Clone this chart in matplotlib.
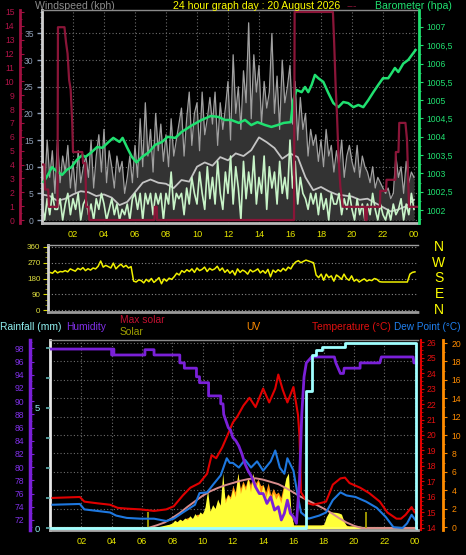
import numpy as np
import matplotlib
matplotlib.use("Agg")
import matplotlib.pyplot as plt
from matplotlib.ticker import MultipleLocator, FuncFormatter, FixedLocator
import matplotlib.transforms as mtransforms

plt.rcParams['font.family'] = ['Liberation Sans', 'DejaVu Sans']

# ---------------------------------------------------------------- data
hour_ticks = [2, 4, 6, 8, 10, 12, 14, 16, 18, 20, 22, 24]
hour_labels = ['02', '04', '06', '08', '10', '12', '14', '16', '18', '20', '22', '00']

# 10-minute samples 00:00 .. 24:00 (145 values)
gust = [14, 6, 15, 8, 13, 5,   15, 7, 12, 9, 14, 6,   11, 5, 13, 7, 10, 12,
        8, 15, 6, 12, 16, 9,   17, 7, 13, 10, 6, 12,  9, 11, 5, 8, 12, 7,
        14, 8, 19, 10, 22, 12, 17, 9, 20, 13, 18, 11, 16, 10, 19, 12, 15, 18,
        21, 12, 19, 24, 14, 20, 22, 13, 24, 16, 19, 23, 18, 24, 14, 22, 17, 21,
        26, 15, 31, 20, 25, 17, 28, 22, 37, 19, 31, 24, 29, 18, 26, 21, 24, 35,
        20, 27, 17, 30, 22, 25, 29, 18, 26, 15, 23, 17, 20, 12, 17, 14, 16, 11,
        15, 10, 17, 12, 14, 9,  13, 10, 15, 8, 12, 14,  11, 9, 14, 8, 12, 10,
        9, 7, 10, 6, 8, 7,      6, 5, 6, 4, 5, 12,      8, 10, 5, 11, 7, 9,
        8]
speed = [3, 0, 4, 1, 5, 2,  2, 4, 0, 3, 5, 1,  4, 2, 5, 0, 3, 4,
         1, 3, 0, 4, 2, 5,  3, 0, 2, 4, 1, 3,  0, 2, 1, 3, 0, 4,
         5, 2, 5, 0, 5, 3,  5, 1, 5, 3, 5, 0,  5, 3, 9, 2, 5, 4,
         5, 1, 6, 3, 8, 5,  3, 9, 5, 2, 10, 4, 8, 3, 11, 5, 2, 9,
         5, 12, 3, 10, 6, 0, 11, 4, 9, 5, 12, 3, 8, 5, 12, 2, 10, 6,
         9, 3, 11, 5, 8, 4, 15, 6, 11, 3, 8, 5, 4, 2, 5, 3, 5, 1,
         5, 2, 4, 0, 5, 3,  3, 5, 1, 4, 2, 5,  2, 0, 4, 1, 3, 0,
         3, 1, 5, 2, 0, 3,  1, 0, 2, 0, 3, 1,  2, 4, 0, 3, 1, 5,
         2]
# 30-minute average wind 00:00 .. 24:00 (49 values)
wind_avg = [4.8, 4.5, 3.6, 4.0, 4.8, 5.4, 5.2, 4.5, 4.8, 4.2, 2.8, 3.4, 5.2,
            7.0, 7.6, 7.0, 6.8, 6.0, 7.5, 7.2, 10.0, 10.8, 10.2, 11.8, 11.2,
            12.5, 12.0, 13.1, 15.5, 14.6, 13.5, 11.5, 12.5, 11.8, 8.0, 5.6,
            6.2, 5.4, 4.8, 4.6, 4.4, 3.8, 4.0, 3.2, 2.4, 1.6, 2.0, 2.6, 3.8]

baro_t = [0.1, 0.3, 0.65, 1.0, 1.3, 1.6, 1.9, 2.25, 2.6, 2.8, 3.2, 3.55, 3.9,
          4.3, 4.6, 5.0, 5.2, 5.5, 5.8, 6.1, 6.45, 6.9, 7.3, 7.75, 8.1, 8.6,
          9.0, 9.7, 10.3, 10.9, 11.4, 11.8, 12.2, 12.7, 13.1, 13.5, 13.9, 14.4,
          14.8, 15.2, 15.6, 16.05, 16.21, 16.43, 16.75, 16.97, 17.18, 17.4,
          17.61, 17.83, 18.15, 18.47, 18.8, 19.12, 19.44, 19.76, 20.09, 20.41,
          20.73, 21.05, 21.38, 21.7, 22.0, 22.34, 22.56, 22.77, 22.99, 23.31,
          23.63, 24.1]
baro_v = [1002.77, 1002.9, 1003.17, 1003.04, 1002.96, 1003.1, 1003.17, 1003.37,
          1003.5, 1003.45, 1003.58, 1003.72, 1003.7, 1003.86, 1003.97, 1003.86,
          1003.97, 1003.7, 1003.45, 1003.3, 1003.45, 1003.58, 1003.78, 1003.86,
          1004.0, 1003.97, 1004.13, 1004.32, 1004.46, 1004.57, 1004.54, 1004.46,
          1004.46, 1004.38, 1004.46, 1004.32, 1004.4, 1004.32, 1004.27, 1004.32,
          1004.38, 1004.4, 1005.0, 1005.28, 1005.22, 1005.36, 1005.22, 1005.42,
          1005.69, 1005.6, 1005.5, 1005.2, 1004.92, 1004.81, 1004.95, 1004.92,
          1004.81, 1004.87, 1004.81, 1005.0, 1005.22, 1005.42, 1005.6, 1005.6,
          1005.74, 1005.88, 1005.77, 1006.0, 1006.1, 1006.37]

rate_t = [0.0, 0.15, 0.2, 0.4, 0.45, 1.0, 1.03, 1.45, 1.55, 1.65, 1.75, 1.85,
          1.95, 2.0, 2.6, 2.65, 2.8, 2.85, 3.0, 3.05, 7.25, 7.28, 7.4, 7.43,
          16.26, 16.3, 18.77, 18.85, 18.95, 19.03, 19.1, 19.16, 19.25, 19.35,
          19.42, 20.84, 20.86, 20.95, 20.97, 21.8, 21.83, 22.2, 22.23, 22.8,
          22.83, 23.0, 23.05, 23.45, 23.55, 23.68, 24.2]
rate_v = [4.0, 4.0, 2.2, 2.2, 0.95, 0.95, 13.9, 13.9, 12.8, 12.0, 10.1, 9.4,
          7.0, 4.9, 4.9, 4.1, 4.1, 0.95, 0.95, 0.0, 0.0, 0.95, 0.95, 0.0,
          0.0, 15.0, 15.0, 12.8, 9.5, 7.7, 5.5, 4.0, 2.4, 1.5,
          0.95, 0.95, 0.0, 0.0, 0.95, 0.95, 2.1, 2.1, 2.9, 2.9,
          4.9, 4.9, 7.0, 7.0, 5.8, 0.95, 0.95]

# wind direction, 10-minute samples (145 values)
wind_dir = [215, 210, 225, 212, 220, 218, 225, 218, 235, 228, 222, 238,
            230, 242, 225, 236, 228, 240, 235, 250, 280, 245, 255, 248,
            240, 268, 235, 250, 262, 245, 255, 240, 248, 165, 160, 172,
            168, 155, 175, 162, 180, 158, 170, 185, 150, 178, 165, 182,
            175, 190, 210, 200, 225, 215, 230, 220, 235, 215, 240, 225,
            232, 245, 220, 238, 228, 235, 250, 225, 240, 215, 230, 210,
            225, 200, 235, 215, 228, 220, 205, 230, 218, 225, 235, 212,
            225, 210, 232, 190, 228, 215, 230, 220, 238, 225, 245, 235,
            260, 275, 282, 270, 278, 285, 280, 275, 270, 200, 185, 205,
            170, 205, 185, 195, 165, 200, 190, 175, 205, 180, 170, 195,
            165, 175, 160, 170, 178, 165, 172, 168, 180, 175, 162, 160,
            160, 160, 160, 160, 160, 160, 160, 160, 160, 160, 205, 215,
            218]
compass = ['N', 'W', 'S', 'E', 'N']
compass_deg = [360, 270, 180, 90, 0]

temp_t = [0.1, 1.9, 2.2, 3.0, 3.9, 4.4, 5.0, 5.9, 6.8, 7.6, 8.1, 8.7, 9.2, 9.8,
          10.3, 10.6, 10.9, 11.3, 11.7, 12.0, 12.3, 12.7, 13.1, 13.5, 14.0,
          14.4, 14.8, 15.0, 15.3, 15.6, 16.0, 16.3, 16.4, 16.5, 16.95, 17.3,
          17.75, 18.15, 18.4, 18.6, 19.1, 19.4, 19.7, 20.4, 21.0, 21.7, 22.2,
          22.8, 23.1, 23.4, 23.8, 24.0, 24.2]
temp_v = [15.94, 16.0, 15.7, 15.6, 15.5, 15.3, 15.25, 15.2, 15.1, 15.2, 15.4,
          16.1, 16.6, 16.9, 17.5, 18.7, 18.5, 19.2, 20.1, 20.8, 21.2, 21.9, 22.4,
          21.8, 23.0, 22.1, 23.0, 23.9, 22.9, 22.1, 23.1, 21.3, 19.9, 16.3, 15.6,
          15.5, 15.6, 15.7, 16.3, 16.8, 17.2, 17.25, 16.9, 16.6, 16.25, 15.7,
          15.0, 14.6, 14.6, 14.85, 15.35, 15.0, 15.0]

dew_t = [0.1, 1.9, 2.2, 3.9, 4.3, 5.0, 5.9, 6.8, 7.6, 8.1, 8.7, 9.5, 9.8, 10.3,
         10.7, 11.2, 11.6, 11.8, 12.0, 12.4, 12.8, 13.2, 13.6, 14.0, 14.5, 14.8,
         15.1, 15.4, 15.6, 16.0, 16.3, 16.5, 17.0, 17.7, 18.15, 18.6, 19.1,
         19.5, 20.1, 20.8, 21.5, 22.1, 22.6, 23.2, 23.5, 23.8, 24.2]
dew_v = [15.5, 15.55, 15.2, 15.0, 14.8, 14.65, 14.6, 14.6, 14.45, 14.6, 15.0,
         15.5, 16.25, 16.3, 16.8, 17.4, 18.5, 18.2, 18.2, 17.9, 18.4, 17.9,
         18.3, 17.7, 18.3, 19.0, 17.9, 17.5, 18.5, 17.7, 16.0, 15.0, 14.6,
         14.8, 15.0, 15.8, 16.3, 16.1, 16.0, 15.7, 15.3, 14.7, 14.05, 14.0,
         14.3, 14.85, 14.3]

hum_t = [0.0, 4.0, 4.0, 4.1, 4.1, 4.15, 4.15, 6.2, 6.2, 6.8, 6.8, 8.5, 8.5,
         8.8, 8.8, 9.6, 9.6, 9.8, 9.8, 10.4, 10.4, 11.2, 11.2, 11.35, 11.4,
         11.55, 11.7, 11.85, 12.0, 12.2, 12.4, 12.6, 12.8, 13.0, 13.25, 13.5,
         13.75, 14.0, 14.25, 14.5, 14.75, 15.0, 15.2, 15.4, 15.6, 15.8, 16.0,
         16.2, 16.4, 16.55, 16.7, 16.85, 17.2, 18.7, 18.8, 18.95, 19.1, 19.3,
         19.35, 20.4, 20.4, 21.7, 21.8, 23.9, 23.95, 24.2]
hum_v = [97.9, 97.9, 97.0, 97.0, 97.9, 97.9, 97.0, 97.0, 97.8, 97.8, 97.0, 97.0,
         95.8, 95.8, 95.0, 95.0, 93.7, 93.7, 92.8, 92.8, 90.8, 90.8, 89.6,
         89.6, 88.0, 87.0, 86.0, 85.6, 84.5, 84.0, 83.2, 82.0, 80.5, 79.5,
         78.5, 77.0, 76.0, 76.0, 74.5, 75.5, 73.5, 74.0, 72.0, 73.0, 75.0,
         73.0, 72.5, 71.5, 78.0, 88.0, 93.7, 95.8, 96.7, 96.7, 95.8, 95.0,
         94.2, 94.2, 95.0, 95.0, 95.8, 95.8, 96.7, 96.7, 95.8, 95.8]

rain_t = [0.0, 16.8, 17.2, 17.5, 17.9, 19.4, 24.1, 24.2]
rain_v = [0.0, 5.7, 7.2, 7.4, 7.55, 7.7, 0.0, 0.0]

maxsolar_t = [0.0, 6.4, 7.0, 7.5, 8.0, 8.5, 9.0, 9.5, 10.0, 10.5, 11.0, 11.5,
              12.0, 12.5, 13.0, 13.5, 14.0, 14.5, 15.0, 15.5, 16.0, 16.5, 17.0,
              17.5, 18.0, 18.5, 19.0, 19.5, 20.0, 20.5, 24.2]
maxsolar_v = [0, 0, 50, 100, 180, 270, 380, 480, 580, 660, 720, 770, 810, 850,
              880, 895, 870, 830, 790, 720, 640, 560, 490, 420, 350, 270, 180,
              100, 40, 0, 0]

# solar (W/m2) and UV, 10-minute samples 06:00 .. 21:00 (91 values)
solar = [0, 0, 0, 5, 10, 15,        20, 30, 40, 50, 60, 70,
         90, 140, 110, 160, 130, 180, 150, 220, 170, 260, 200, 290,
         250, 380, 680, 300, 420, 350, 520, 400, 990, 450, 600, 520,
         700, 560, 990, 620, 800, 680, 900, 650, 990, 720, 850, 600,
         780, 550, 700, 480, 640, 520, 600, 450, 680, 900, 990, 300,
         54, 54, 54, 54, 54, 54,    54, 54, 54, 54, 54, 54,
         60, 200, 280, 290, 285, 280, 270, 250, 120, 40, 36, 36,
         36, 36, 36, 30, 20, 10, 0]
uv = [0, 0, 0, 0, 0, 0,          0, 0, 0, 0.1, 0.2, 0.3,
      0.4, 0.5, 0.6, 0.8, 0.7, 0.9, 1.0, 1.1, 0.9, 1.2, 1.4, 1.3,
      1.5, 1.8, 2.6, 1.7, 2.2, 2.0, 2.8, 2.4, 4.0, 3.0, 3.6, 3.3,
      4.5, 3.8, 5.8, 4.2, 5.0, 4.4, 5.4, 4.6, 5.6, 4.8, 5.2, 4.5,
      4.6, 3.8, 4.8, 3.5, 4.2, 3.6, 3.8, 3.2, 4.4, 3.9, 4.6, 1.5,
      0.2, 0.2, 0.2, 0.2, 0.2, 0.2, 0.2, 0.2, 0.2, 0.2, 0.2, 0.2,
      0.3, 0.7, 1.0, 1.0, 1.0, 1.0, 0.9, 0.8, 0.4, 0.2, 0.1, 0.1,
      0.1, 0.1, 0, 0, 0, 0, 0]
sun_events = [6.4, 20.8]
sun_marker_h = [290, 290]

# ---------------------------------------------------------------- layout
W, H, DPI = 466, 555, 100
PT = 72.0 / DPI          # points per pixel
TICK = 6.2

fig = plt.figure(figsize=(W / DPI, H / DPI), dpi=DPI, facecolor='black')


def box(x0, y0, x1, y1):
    return [x0 / W, (H - y1) / H, (x1 - x0) / W, (y1 - y0) / H]


def hide_spines(a):
    for s in a.spines.values():
        s.set_visible(False)


def ftext(x, y, s, color, size=7.6, ha='left'):
    fig.text(x / W, 1 - y / H, s, color=color, fontsize=size, ha=ha, va='center')


GRID = dict(color='#6c6c6c', linestyle=(0, (1, 2)), linewidth=0.8)
t10 = np.arange(len(gust)) / 6.0
t30 = np.arange(len(wind_avg)) / 2.0
tsol = 6.0 + np.arange(len(solar)) / 6.0

# ------------------------------------------------ top panel (wind / baro)
ax1 = fig.add_axes(box(42, 10, 418, 223))
ax1.set_facecolor('black')
hide_spines(ax1)
for side, col, lw in (('left', '#d0d0d0', 2), ('bottom', '#b8b8b8', 2), ('top', '#8a8a8a', 1)):
    ax1.spines[side].set_visible(True)
    ax1.spines[side].set_color(col)
    ax1.spines[side].set_linewidth(lw)
ax1.set_xlim(0, 24.26)
ax1.set_ylim(-0.56, 39.4)
ax1.set_xticks(hour_ticks)
ax1.set_xticklabels(hour_labels)
ax1.tick_params(axis='x', length=0, pad=5, labelsize=TICK + 0.4, labelcolor='#e8e800')
ax1.set_yticks(range(0, 36, 5))
ax1.yaxis.set_minor_locator(MultipleLocator(1))
ax1.tick_params(axis='y', which='major', direction='out', length=3.5, width=1,
                color='#8fa0b8', labelcolor='#8fa0b8', labelsize=TICK, pad=2.5)
ax1.tick_params(axis='y', which='minor', direction='out', length=1.8, width=0.8, color='#6f8098')
ax1.grid(True, which='major', **GRID)
ax1.set_axisbelow(True)

ax1.fill_between(t10, 0, gust, color='#333333', lw=0)
ax1.plot(t10, gust, color='#a0a0a0', lw=0.9)
ax1.plot(t30, wind_avg, color='#c4c4c4', lw=1.3)
ax1.plot(t10, speed, color='#c8f4c8', lw=1.2)

ax2 = ax1.twinx()
hide_spines(ax2)
ax2.spines['right'].set_visible(True)
ax2.spines['right'].set_color('#20e070')
ax2.spines['right'].set_linewidth(2)
ax2.spines['right'].set_position(('outward', 1 * PT))
ax2.set_ylim(1001.645, 1007.464)
ax2.yaxis.set_major_locator(MultipleLocator(0.5))
ax2.yaxis.set_minor_locator(MultipleLocator(0.25))
ax2.yaxis.set_major_formatter(FuncFormatter(lambda v, p: (('%.1f' % v).rstrip('0').rstrip('.')).replace('.', ',')))
ax2.tick_params(axis='y', which='major', direction='out', length=3, color='#20e070',
                labelcolor='#20e070', labelsize=TICK, pad=2)
ax2.tick_params(axis='y', which='minor', direction='out', length=1.5, color='#20e070')
ax2.plot(baro_t, baro_v, color='#20e070', lw=1.8)

ax3 = ax1.twinx()
hide_spines(ax3)
ax3.yaxis.tick_left()
ax3.spines['left'].set_visible(True)
ax3.spines['left'].set_color('#a01040')
ax3.spines['left'].set_linewidth(2)
ax3.spines['left'].set_position(('outward', 22 * PT))
ax3.set_ylim(-0.216, 15.14)
ax3.yaxis.set_major_locator(MultipleLocator(1))
ax3.yaxis.set_minor_locator(MultipleLocator(0.5))
ax3.tick_params(axis='y', which='major', direction='in', length=3, color='#a01040',
                labelcolor='#b01448', labelsize=TICK, pad=4)
ax3.tick_params(axis='y', which='minor', direction='in', length=1.5, color='#a01040')
ax3.plot(rate_t, rate_v, color='#8a1538', lw=1.6)

ftext(35, 6, 'Windspeed (kph)', '#8c8c8c')
ftext(257, 6, '24 hour graph day : 20 August 2026', '#ffff00', ha='center')
ftext(347, 6, '---', '#8a1538')
ftext(413, 6, 'Barometer (hpa)', '#20e070', ha='center')

# ------------------------------------------------ middle panel (direction)
axm = fig.add_axes(box(48, 245, 418, 312))
axm.set_facecolor('black')
hide_spines(axm)
axm.spines['left'].set_visible(True)
axm.spines['left'].set_color('#d0d0d0')
axm.spines['left'].set_linewidth(2)
axm.spines['top'].set_visible(True)
axm.spines['top'].set_color('#a0a0a0')
axm.spines['top'].set_linewidth(1)
axm.spines['bottom'].set_visible(True)
axm.spines['bottom'].set_color('#9a9a9a')
axm.spines['bottom'].set_linewidth(2)
axm.spines['bottom'].set_linestyle((0, (1, 1)))
axm.set_xlim(-0.13, 24.2)
axm.set_ylim(-11.4, 371.4)
axm.set_xticks([])
axm.set_yticks([0, 90, 180, 270, 360])
axm.yaxis.set_minor_locator(MultipleLocator(30))
axm.tick_params(axis='y', which='major', direction='out', length=3.5, color='#d8d800',
                labelcolor='#e0e040', labelsize=TICK - 0.4, pad=2)
axm.tick_params(axis='y', which='minor', direction='out', length=2, color='#a0a000')
axm.grid(True, axis='y', which='major', color='#8a8a8a', linestyle=(0, (1, 2)), linewidth=0.8)
axm.set_axisbelow(True)
axm.plot(t10, wind_dir, color='#f0f000', lw=1.1)
trm = mtransforms.blended_transform_factory(fig.transFigure, axm.transData)
for lab, deg in zip(compass, compass_deg):
    axm.text(439 / W, deg, lab, transform=trm, color='#ffff00', fontsize=10,
             ha='center', va='center')

# ------------------------------------------------ bottom panel
axu = fig.add_axes(box(50, 340, 418, 530))          # UV (base, grid)
axu.set_facecolor('black')
hide_spines(axu)
for side, col, lw in (('left', '#e8e8e8', 2), ('bottom', '#a8a8a8', 2), ('top', '#8a8a8a', 1)):
    axu.spines[side].set_visible(True)
    axu.spines[side].set_color(col)
    axu.spines[side].set_linewidth(lw)
axu.spines['right'].set_visible(True)
axu.spines['right'].set_color('#ff8c00')
axu.spines['right'].set_linewidth(2)
axu.spines['right'].set_position(('outward', 25 * PT))
axu.set_xlim(-0.066, 24.22)
axu.set_ylim(-0.326, 20.33)
axu.set_xticks(hour_ticks)
axu.set_xticklabels(hour_labels)
axu.tick_params(axis='x', length=0, pad=5, labelsize=TICK + 0.4, labelcolor='#e8e800')
axu.yaxis.set_major_locator(MultipleLocator(2))
axu.yaxis.set_minor_locator(MultipleLocator(1))
axu.grid(True, which='major', **GRID)
axu.set_axisbelow(True)
axu.fill_between(tsol, 0, uv, color='#ff9010', lw=0)

axs = axu.twinx()                                     # solar (hidden scale)
hide_spines(axs)
axs.set_yticks([])
axs.set_ylim(-36, 3384)
axs.fill_between(tsol, 0, solar, color='#ffff38', lw=0)
axs.axhline(0, color='#ffff60', lw=1.5)
axs.plot(maxsolar_t, maxsolar_v, color='#d88c8c', lw=1.4)
axs.vlines(sun_events, 0, sun_marker_h, color='#a8a000', lw=1.3)

axt = axu.twinx()                                     # temperature / dew
hide_spines(axt)
axt.spines['right'].set_visible(True)
axt.spines['right'].set_color('#e00000')
axt.spines['right'].set_linewidth(1.5)
axt.spines['right'].set_position(('outward', 3 * PT))
axt.set_ylim(13.87, 26.13)
axt.yaxis.set_major_locator(MultipleLocator(1))
axt.yaxis.set_minor_locator(MultipleLocator(0.25))
axt.tick_params(axis='y', which='major', direction='out', length=2.5, color='#e00000',
                labelcolor='#e01010', labelsize=TICK, pad=1.5)
axt.tick_params(axis='y', which='minor', direction='out', length=1.2, color='#e00000')
axt.plot(dew_t, dew_v, color='#1e78e0', lw=1.5)
axt.plot(temp_t, temp_v, color='#e00000', lw=1.5)

axh = axu.twinx()                                     # humidity
hide_spines(axh)
axh.yaxis.tick_left()
axh.spines['left'].set_visible(True)
axh.spines['left'].set_color('#7a20d8')
axh.spines['left'].set_linewidth(2.5)
axh.spines['left'].set_position(('outward', 20 * PT))
axh.set_ylim(70.48, 99.27)
axh.yaxis.set_major_locator(MultipleLocator(2))
axh.yaxis.set_minor_locator(MultipleLocator(1))
axh.tick_params(axis='y', which='major', direction='in', length=3, color='#7a20d8',
                labelcolor='#8030e8', labelsize=TICK, pad=4)
axh.tick_params(axis='y', which='minor', direction='in', length=1.5, color='#7a20d8')
axh.plot(hum_t, hum_v, color='#7a20d8', lw=2)

axr = axu.twinx()                                     # rainfall
hide_spines(axr)
axr.yaxis.tick_left()
axr.set_ylim(-0.083, 7.83)
axr.yaxis.set_major_locator(FixedLocator([0, 1.25, 2.5, 3.75, 5, 6.25, 7.5]))
axr.yaxis.set_major_formatter(FuncFormatter(lambda v, p: '%d' % v if v in (0, 5) else ''))
axr.tick_params(axis='y', which='major', direction='out', length=3, width=1.2,
                color='#60b0b0', labelcolor='#90f0f0', labelsize=TICK + 0.6, pad=4)
axr.plot(rain_t, rain_v, color='#a0ffff', lw=2, drawstyle='steps-post')

# twinx() moved the base ticks to the left: put UV scale back on the right
axu.yaxis.tick_right()
axu.tick_params(axis='y', which='major', direction='out', length=3, color='#ff8c00',
                labelcolor='#ff8c00', labelsize=TICK, pad=3)
axu.tick_params(axis='y', which='minor', direction='out', length=1.5, color='#ff8c00')

ftext(0, 327, 'Rainfall (mm)', '#90f0f0', size=7.4)
ftext(66, 327, 'Humidity', '#8030e8', size=7.4)
ftext(120, 320, 'Max solar', '#c01030', size=7.4)
ftext(120, 332, 'Solar', '#a0a000', size=7.4)
ftext(246, 327, 'UV', '#ff8c00', size=7.4)
ftext(312, 327, 'Temperature (\u00b0C)', '#e01010', size=7.4)
ftext(394, 327, 'Dew Point (\u00b0C)', '#2080f0', size=7.2)

fig.savefig('out.png', dpi=DPI, facecolor='black')
